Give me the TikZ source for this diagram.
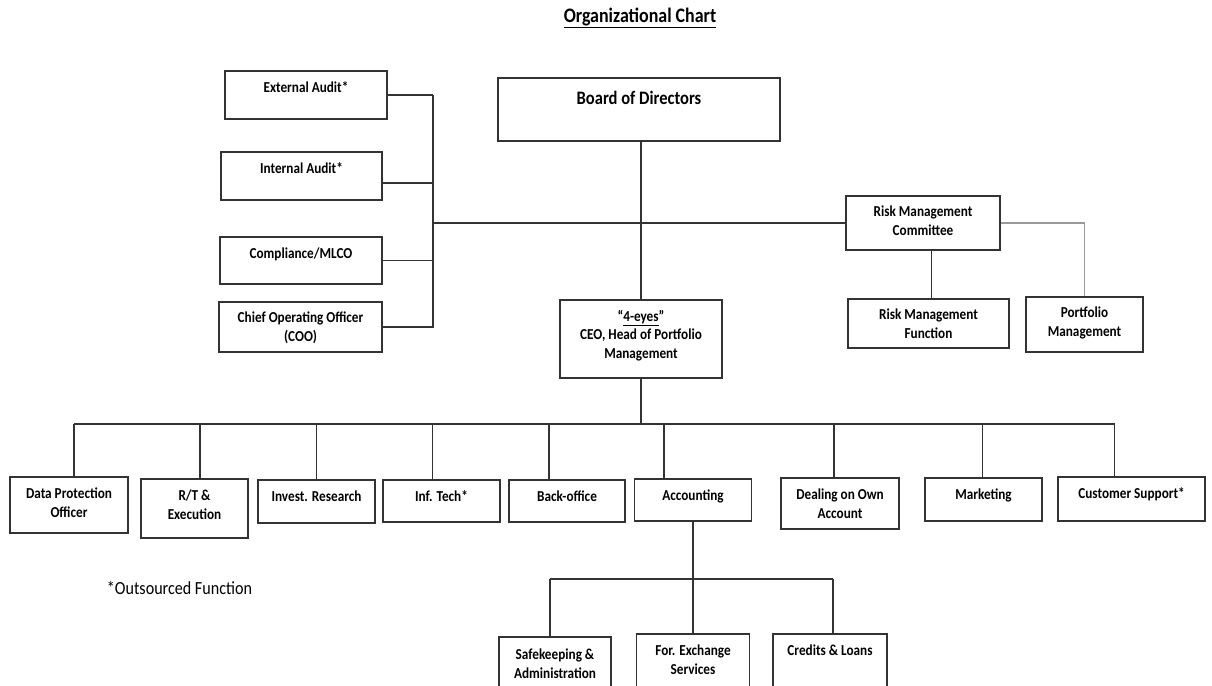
\documentclass[tikz,border=0pt]{standalone}
\usepackage{fontspec}
\setmainfont{Carlito}[FakeStretch=0.87]
\usetikzlibrary{calc}

\newcommand\orgfont{\fontsize{15.2}{18.5}\selectfont\bfseries}
\newcommand\boardfont{\fontsize{19}{22}\selectfont\bfseries}
\newcommand\titlefont{\fontsize{20.6}{24}\selectfont\bfseries}

\tikzset{
  orgbox/.style 2 args={minimum width=#1,minimum height=#2},
  inbox/.style={draw=none,anchor=north,inner sep=0pt,align=center,yshift=-11pt,font=\orgfont},
  orgline/.style={draw=black!80,line width=1.5pt},
  greyline/.style={draw=black!40,line width=1.5pt}
}

\begin{document}
\begin{tikzpicture}[x=1pt,y=-1pt]
  \clip (0,0) rectangle (1212,685);
  \fill[white] (0,0) rectangle (1212,685);

  \node[font=\titlefont] (title) at (640,18) {\underline{Organizational Chart}};
  \node[font=\fontsize{18.5}{22}\selectfont] (note) at (179.5,588) {*Outsourced Function};

  \begin{scope}[every node/.style={draw=black!80,line width=1.7pt,inner sep=0pt}]
    \node[orgbox={162pt}{48pt},label={[inbox]north:External Audit*}]  (ext)   at (306,95)     {};
    \node[orgbox={161pt}{48pt},label={[inbox]north:Internal Audit*}]  (int)   at (301.5,176)  {};
    \node[orgbox={162pt}{47pt},label={[inbox]north:Compliance/MLCO}]  (comp)  at (301,260.5)  {};
    \node[orgbox={163pt}{50pt},label={[inbox,yshift=1pt]north:{Chief Operating Officer\\(COO)}}] (coo) at (300.5,327) {};
    \node[orgbox={282pt}{63pt},label={[inbox,font=\boardfont,yshift=-2pt]north:Board of Directors}] (board) at (639,109.5) {};
    \node[orgbox={154pt}{54pt},label={[inbox,yshift=1pt]north:{Risk Management\\Committee}}] (rmc) at (923,223) {};
    \node[orgbox={161pt}{49pt},label={[inbox,yshift=1pt]north:{Risk Management\\Function}}]  (rmf) at (928.5,323.5) {};
    \node[orgbox={117pt}{55pt},label={[inbox,yshift=1pt]north:{Portfolio\\Management}}]     (pm)  at (1084.5,324.5) {};
    \node[orgbox={162pt}{78pt},label={[inbox,yshift=1pt]north:{“\underline{4-eyes}”\\CEO, Head of Portfolio\\Management}}] (ceo) at (641,339) {};

    \node[orgbox={118pt}{56pt},label={[inbox]north:{Data Protection\\Officer}}] (dpo)  at (69,505)     {};
    \node[orgbox={107pt}{59pt},label={[inbox]north:{R/T \&\\Execution}}]       (rt)   at (194.5,508.5) {};
    \node[orgbox={117pt}{43pt},label={[inbox]north:Invest. Research}]           (inv)  at (316.5,501.5) {};
    \node[orgbox={117pt}{42pt},label={[inbox]north:Inf. Tech*}]                 (it)   at (441.5,501)   {};
    \node[orgbox={116pt}{42pt},label={[inbox]north:Back-office}]                (bo)   at (567,501)     {};
    \node[orgbox={117pt}{42pt},label={[inbox]north:Accounting}]                 (acc)  at (693,500)     {};
    \node[orgbox={118pt}{51pt},label={[inbox]north:{Dealing on Own\\Account}}]  (deal) at (840,503.5)   {};
    \node[orgbox={117pt}{43pt},label={[inbox]north:Marketing}]                  (mkt)  at (983.5,499.5) {};
    \node[orgbox={147pt}{44pt},label={[inbox]north:Customer Support*}]          (cs)   at (1131.5,499)  {};

    \node[orgbox={112pt}{70pt},label={[inbox,yshift=-1pt]north:{Safekeeping \&\\Administration}}] (safe) at (555,672) {};
    \node[orgbox={113pt}{70pt},label={[inbox]north:{For. Exchange\\Services}}]       (fx)   at (693,669) {};
    \node[orgbox={114pt}{70pt},label={[inbox]north:Credits \& Loans}]                (cred) at (830,669) {};
  \end{scope}

  \coordinate (ltop)   at (433,95);
  \coordinate (lbot)   at (433,328);
  \coordinate (bus)    at (0,424);
  \coordinate (subbus) at (0,579);

  \begin{scope}[every path/.style={orgline}]
    \draw (ltop) -- (lbot);
    \draw (ext.east) -- (ext.east -| ltop);
    \draw ([yshift=-7pt]int.east) -- ([yshift=-7pt]int.east -| ltop);
    \draw (comp.east) -- (comp.east -| ltop);
    \draw (coo.east) -- (coo.east -| ltop);
    \draw (rmc.west) -- (rmc.west -| ltop);
    \draw (ceo.north) -- (ceo.north |- board.south);
    \draw ([xshift=3pt]rmf.north) -- ([xshift=3pt]rmf.north |- rmc.south);
    \draw[greyline] (rmc.east) -| (pm.north);

    \draw (ceo.south) -- (ceo.south |- bus);
    \draw ([xshift=5pt]dpo.north |- bus) -- ([xshift=-17pt]cs.north |- bus);
    \foreach \n/\d in {dpo/5,rt/5.5,inv/0,it/-9,bo/-18,acc/-29,deal/-6,mkt/-1,cs/-17}
      \draw ([xshift=\d pt]\n.north) -- ([xshift=\d pt]\n.north |- bus);

    \draw (acc.south) -- (fx.north);
    \draw ([xshift=-5pt]safe.north |- subbus) -- ([xshift=3pt]cred.north |- subbus);
    \draw ([xshift=-5pt]safe.north) -- ([xshift=-5pt]safe.north |- subbus);
    \draw ([xshift=3pt]cred.north) -- ([xshift=3pt]cred.north |- subbus);
  \end{scope}
\end{tikzpicture}
\end{document}
